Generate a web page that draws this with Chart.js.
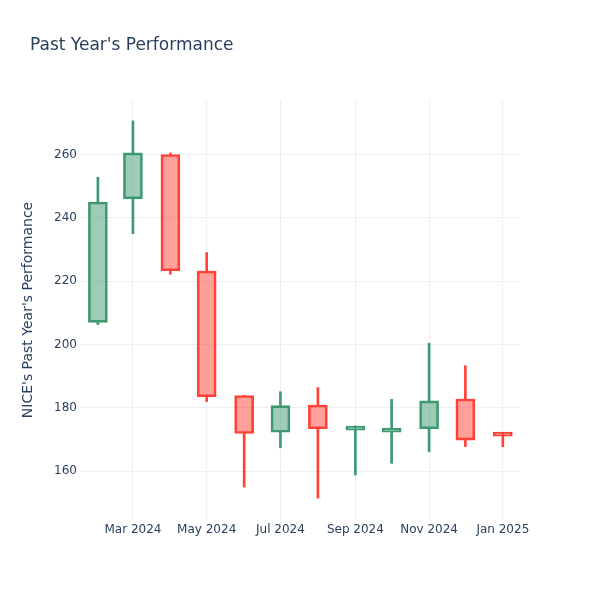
<!DOCTYPE html>
<html>
<head>
<meta charset="utf-8">
<script src="https://cdn.jsdelivr.net/npm/chart.js@4.4.1/dist/chart.umd.min.js"></script>
<style>
  html, body { margin: 0; padding: 0; background: #fff; }
  #wrap { position: relative; width: 600px; height: 600px; }
</style>
</head>
<body>
<div id="wrap"><canvas id="myChart" width="600" height="600"></canvas></div>
<script>
// monthly candles, NICE
const months = ['2024-02-01', '2024-03-01', '2024-04-01', '2024-05-01', '2024-06-01', '2024-07-01',
  '2024-08-01', '2024-09-01', '2024-10-01', '2024-11-01', '2024-12-01', '2025-01-01']
const opens = [207.0, 246.0, 260.0, 223.2, 183.9, 172.3, 180.9, 173.0, 172.3, 173.4, 182.8, 171.6]
const highs = [252.8, 270.6, 260.5, 229.0, 184.0, 185.1, 186.4, 174.3, 182.7, 200.4, 193.3, 171.9]
const lows = [206.3, 235.0, 222.2, 182.0, 155.0, 167.4, 151.5, 158.8, 162.5, 166.2, 167.8, 167.8]
const closes = [245.0, 260.5, 223.3, 183.5, 171.9, 180.7, 173.4, 173.6, 173.6, 182.2, 169.8, 171.1]

const xTickDates = ['2024-03-01', '2024-05-01', '2024-07-01', '2024-09-01', '2024-11-01', '2025-01-01']
const xTickLabels = ['Mar 2024', 'May 2024', 'Jul 2024', 'Sep 2024', 'Nov 2024', 'Jan 2025']
const yTicks = [160, 180, 200, 220, 240, 260]

const textColor = '#2a3f5f'
const gridColor = '#EBF0F8'
const upLine = '#3D9970', upFill = 'rgba(61,153,112,0.5)'
const downLine = '#FF4136', downFill = 'rgba(255,65,54,0.5)'

const toDay = s => Date.parse(s) / 864e5
const xs = months.map(toDay)
const isUp = opens.map((o, i) => closes[i] >= o)
const lineColors = isUp.map(u => u ? upLine : downLine)
const fillColors = isUp.map(u => u ? upFill : downFill)

const bodies = xs.map((x, i) => ({ x: x, y: [opens[i], closes[i]] }))
const upperWicks = xs.map((x, i) => ({ x: x, y: [Math.max(opens[i], closes[i]), highs[i]] }))
const lowerWicks = xs.map((x, i) => ({ x: x, y: [lows[i], Math.min(opens[i], closes[i])] }))

const titlePlugin = {
  id: 'plotTitle',
  afterDraw(chart) {
    const ctx = chart.ctx
    ctx.save()
    ctx.font = '17px "DejaVu Sans"'
    ctx.fillStyle = textColor
    ctx.textBaseline = 'alphabetic'
    ctx.textAlign = 'left'
    ctx.fillText("Past Year's Performance", 30, 50)
    ctx.restore()
  }
}

const config = {
  type: 'bar',
  data: {
    datasets: [
      {
        data: bodies,
        backgroundColor: fillColors,
        borderColor: lineColors,
        borderWidth: 2,
        borderSkipped: false,
        barThickness: 19,
        minBarLength: 4,
        grouped: false
      },
      {
        data: upperWicks,
        backgroundColor: lineColors,
        borderWidth: 0,
        barThickness: 2,
        grouped: false
      },
      {
        data: lowerWicks,
        backgroundColor: lineColors,
        borderWidth: 0,
        barThickness: 2,
        grouped: false
      }
    ]
  },
  options: {
    responsive: false,
    animation: false,
    layout: { padding: { top: 100, right: 80, left: 0, bottom: 0 } },
    plugins: {
      legend: { display: false },
      tooltip: { enabled: false },
      title: { display: false }
    },
    scales: {
      x: {
        type: 'linear',
        offset: false,
        min: toDay('2024-01-18') - 0.8,
        max: toDay('2025-01-16') - 0.8,
        afterBuildTicks: scale => { scale.ticks = xTickDates.map(d => ({ value: toDay(d) })) },
        afterFit: scale => { scale.height = 80 },
        grid: { color: gridColor, drawTicks: false, offset: false },
        border: { display: false },
        ticks: {
          color: textColor,
          font: { family: 'DejaVu Sans', size: 12 },
          padding: 3,
          maxRotation: 0,
          autoSkip: false,
          callback: (v, i) => xTickLabels[i]
        }
      },
      y: {
        min: 144.6,
        max: 277.2,
        afterBuildTicks: scale => { scale.ticks = yTicks.map(v => ({ value: v })) },
        afterFit: scale => { scale.width = 80 },
        grid: { color: gridColor, drawTicks: false },
        border: { display: false },
        ticks: {
          color: textColor,
          font: { family: 'DejaVu Sans', size: 12 },
          padding: 3
        },
        title: {
          display: true,
          text: "NICE's Past Year's Performance",
          color: textColor,
          font: { family: 'DejaVu Sans', size: 14 },
          padding: { top: 20, bottom: 0 }
        }
      }
    }
  },
  plugins: [titlePlugin]
}

const myChart = new Chart(document.getElementById('myChart'), config)
</script>
</body>
</html>
